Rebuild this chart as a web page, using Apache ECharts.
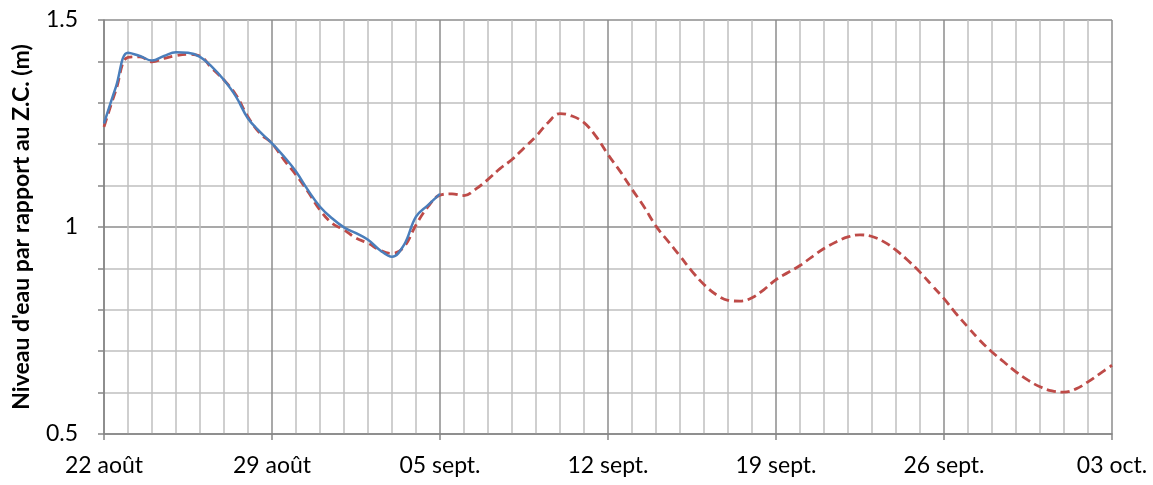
<!DOCTYPE html>
<html>
<head>
<meta charset="utf-8">
<script src="https://cdn.jsdelivr.net/npm/echarts@6/dist/echarts.min.js"></script>
<style>
  html, body { margin: 0; padding: 0; background: #fff; }
  #chart { width: 1153px; height: 485px; }
</style>
</head>
<body>
<div id="chart"></div>
<script>
// libellés de l'axe des dates (une étiquette tous les 7 jours)
var weekLabels = ['22 août', '29 août', '05 sept.', '12 sept.', '19 sept.', '26 sept.', '03 oct.'];
var step = 0.5; // pas des relevés, en jours depuis le 22 août

// niveau observé (m / Z.C.), du 22 août au 05 sept.
var observed = [1.250, 1.339, 1.421, 1.413, 1.402, 1.413, 1.422, 1.421, 1.411, 1.387,
                1.355, 1.315, 1.262, 1.230, 1.202, 1.170, 1.134, 1.089, 1.049, 1.021,
                0.999, 0.985, 0.969, 0.944, 0.928, 0.957, 1.025, 1.053, 1.080];

// niveau prédit (m / Z.C.), du 22 août au 03 oct.
var predicted = [1.242, 1.331, 1.410, 1.411, 1.399, 1.407, 1.414, 1.417, 1.413, 1.383,
                 1.355, 1.319, 1.266, 1.226, 1.202, 1.162, 1.126, 1.085, 1.041, 1.009,
                 0.993, 0.973, 0.961, 0.944, 0.936, 0.952, 1.005, 1.049, 1.077, 1.080,
                 1.076, 1.092, 1.115, 1.141, 1.163, 1.191, 1.219, 1.252, 1.274, 1.268,
                 1.252, 1.219, 1.175, 1.135, 1.091, 1.049, 1.002, 0.966, 0.930, 0.893,
                 0.861, 0.837, 0.823, 0.821, 0.829, 0.849, 0.873, 0.890, 0.907, 0.928,
                 0.948, 0.964, 0.976, 0.981, 0.977, 0.964, 0.944, 0.919, 0.891, 0.859,
                 0.827, 0.791, 0.758, 0.726, 0.698, 0.674, 0.650, 0.630, 0.614, 0.604,
                 0.601, 0.609, 0.626, 0.646, 0.666];

function toPoints(arr) {
    var pts = [];
    for (var i = 0; i < arr.length; i++) pts.push([i * step, arr[i]]);
    return pts;
}

var chart = echarts.init(document.getElementById('chart'));
var font = 'Lato, "Open Sans", sans-serif';

chart.setOption({
    animation: false,
    grid: { left: 104, right: 41, top: 20, bottom: 51, containLabel: false },
    xAxis: {
        type: 'value',
        min: 0, max: 42, interval: 7,
        axisLine: { lineStyle: { color: '#868686', width: 1.5 } },
        axisTick: { show: true, length: 6, lineStyle: { color: '#868686', width: 1.5 } },
        minorTick: { show: false, splitNumber: 7 },
        axisLabel: {
            margin: 20, color: '#000', fontSize: 23, fontFamily: font,
            formatter: function (v) { return weekLabels[Math.round(v / 7)] || ''; }
        },
        splitLine: { show: true, lineStyle: { color: '#8c8c8c', width: 1.5 } },
        minorSplitLine: { show: true, lineStyle: { color: '#c0c0c0', width: 1.5 } }
    },
    yAxis: {
        type: 'value',
        min: 0.5, max: 1.5, interval: 0.5,
        name: "Niveau d'eau par rapport au Z.C. (m)",
        nameLocation: 'middle', nameRotate: 90, nameGap: 71,
        nameTextStyle: { color: '#000', fontSize: 23, fontWeight: 'bold', fontFamily: font },
        axisLine: { show: true, lineStyle: { color: '#868686', width: 1.5 } },
        axisTick: { show: true, length: 6, lineStyle: { color: '#868686', width: 1.5 } },
        minorTick: { show: true, splitNumber: 5, length: 6, lineStyle: { color: '#868686', width: 1.5 } },
        axisLabel: { margin: 26, color: '#000', fontSize: 23, fontFamily: font },
        splitLine: { show: true, lineStyle: { color: '#8c8c8c', width: 1.5 } },
        minorSplitLine: { show: true, lineStyle: { color: '#c0c0c0', width: 1.5 } }
    },
    series: [{
        name: 'Prédit',
        type: 'line',
        data: toPoints(predicted),
        smooth: 0.4,
        showSymbol: false,
        z: 3,
        lineStyle: { color: '#be4b48', width: 2.8, type: [9, 5] }
    }, {
        name: 'Observé',
        type: 'line',
        data: toPoints(observed),
        smooth: 0.4,
        showSymbol: false,
        z: 4,
        lineStyle: { color: '#4a7ebb', width: 2.5 }
    }]
});
</script>
</body>
</html>
